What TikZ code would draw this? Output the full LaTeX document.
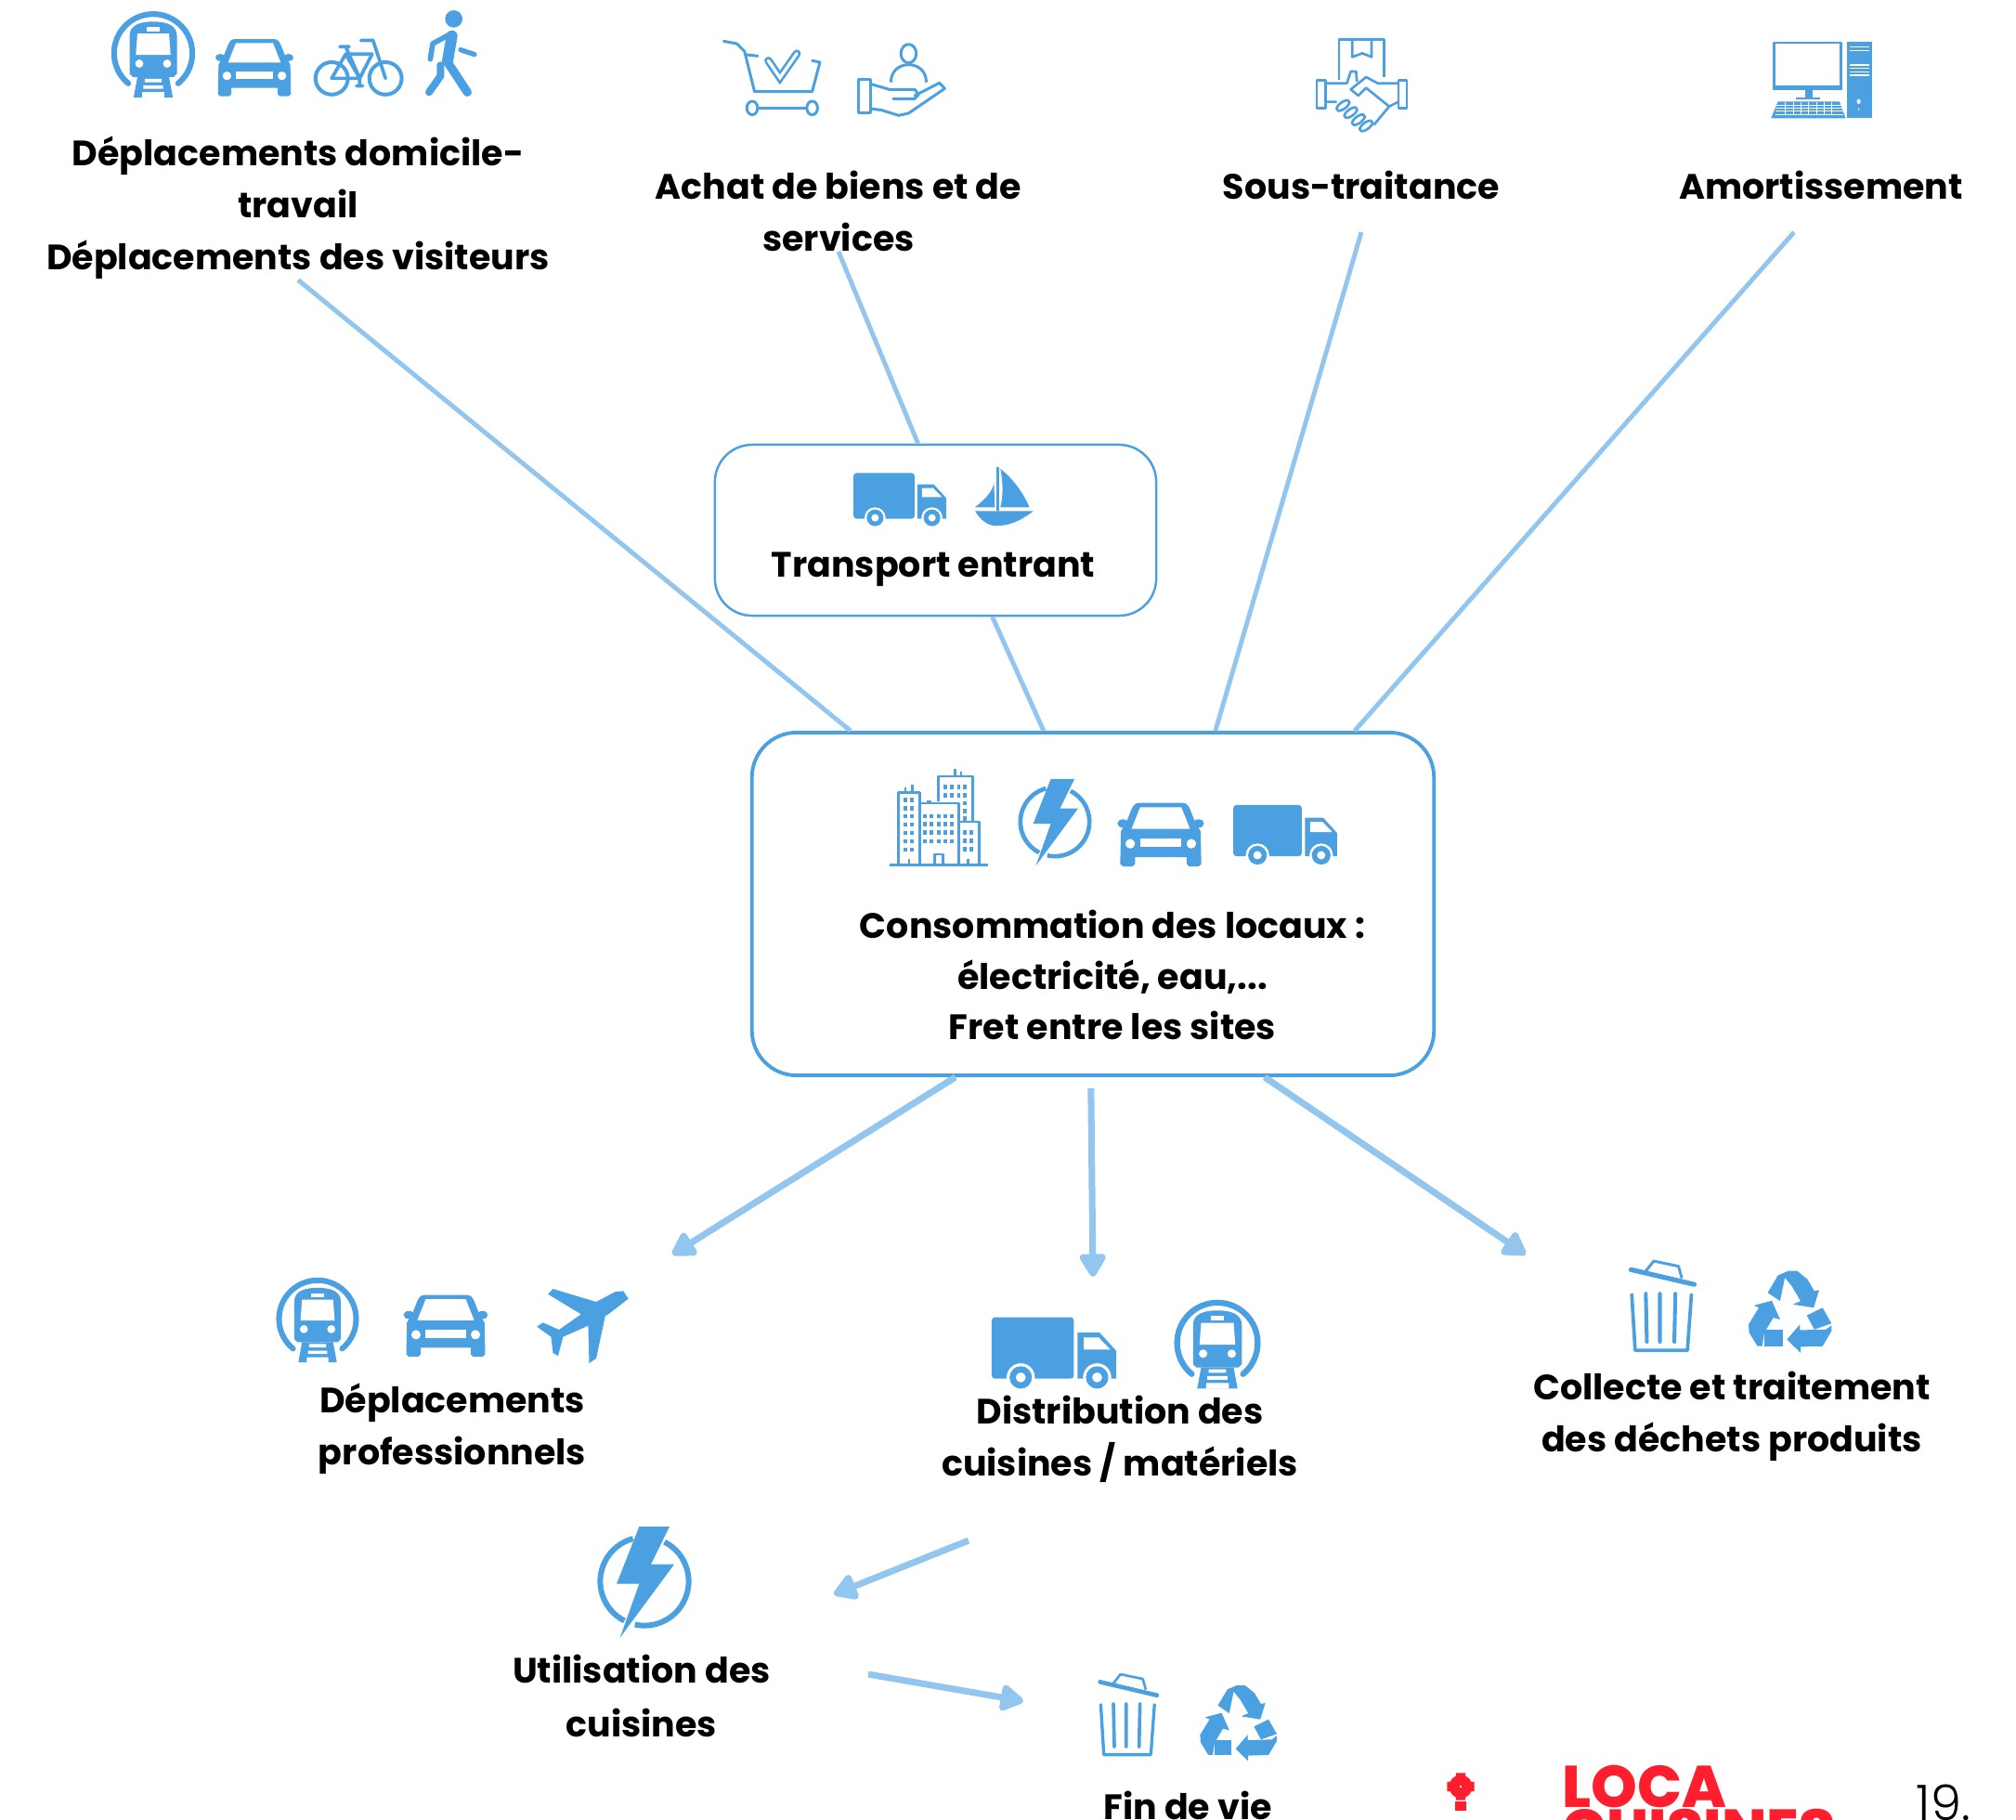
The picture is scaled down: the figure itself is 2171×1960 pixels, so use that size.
\documentclass[tikz,border=0pt]{standalone}
\usepackage{fontspec}
\setmainfont{Poppins}
\newfontfamily\logofont{Poppins}[UprightFont=* ExtraBold]
\newfontfamily\numfont{Poppins}[UprightFont=* Light]
\usetikzlibrary{arrows.meta,calc}
\definecolor{iconblue}{HTML}{4BA0E1}
\definecolor{linkblue}{HTML}{93C6EE}
\definecolor{logored}{HTML}{FF1E2D}
\tikzset{
  icon/.style={scale=#1,color=iconblue,line join=round,/utils/exec={\def\ics{#1}}},
  lw/.style={line width=#1*\ics*0.2845pt},
  label/.style={font=\fontsize{10.8}{15.9}\selectfont\bfseries,align=center,inner sep=0pt},
  box/.style={draw=iconblue,rounded corners=0.45cm,fill=white,inner sep=0pt},
  link/.style={linkblue,line width=1.4pt},
  flow/.style={linkblue,line width=2pt,-{Triangle[length=8pt,width=9pt,round]}},
  pics/train/.style={code={
    \draw[lw=18,line cap=round] ([shift={(0,-5)}]129.5:124) arc[start angle=129.5,end angle=410.5,radius=124];
    \fill (-75,60) -- (-75,-60) .. controls (-75,-95) and (-40,-105) .. (0,-105) .. controls (40,-105) and (75,-95) .. (75,-60) -- (75,60) -- (65,70) -- (-65,70) -- cycle;
    \fill[white] (-50,-67) -- (50,-67) -- (55,0) -- (-55,0) -- cycle;
    \fill[white] (-20,-88) rectangle (20,-75);
    \fill[white] (-44,28) circle (13) (44,28) circle (13);
    \fill (-50,70) -- (50,70) -- (62,135) -- (-62,135) -- cycle;
    \fill[white] (-27,76) rectangle (27,87) (-31,97) rectangle (31,108) (-35,118) rectangle (35,136);
  }},
  pics/car/.style={code={
    \fill (-110,-33) ellipse[x radius=16,y radius=12] (110,-33) ellipse[x radius=16,y radius=12];
    \fill (-62,-93) -- (62,-93) .. controls (75,-93) and (80,-85) .. (85,-75) -- (98,-42) -- (116,-10) -- (118,85) -- (110,92) -- (82,92) -- (75,85) -- (75,65) -- (-75,65) -- (-75,85) -- (-82,92) -- (-110,92) -- (-118,85) -- (-116,-10) -- (-98,-42) -- (-85,-75) .. controls (-80,-85) and (-75,-93) .. (-62,-93) -- cycle;
    \fill[white] (-60,-80) -- (60,-80) -- (85,-17) -- (-85,-17) -- cycle;
    \fill[white] (-60,12) rectangle (60,35);
    \fill[white] (-89,26) circle (14) (89,26) circle (14);
  }},
  pics/bike/.style={code={
    \draw[lw=12] (-86,34) circle (52) (87,34) circle (52);
    \draw[lw=11,line cap=round] (-86,34) -- (-41,-44) -- (4,34) -- cycle;
    \draw[lw=11,line cap=round] (-41,-44) -- (44,-44) -- (4,34) (-41,-68) -- (4,34) (-60,-68) -- (-30,-68);
    \draw[lw=11,line cap=round] (8,-88) -- (47,-88) -- (87,34) (4,34) -- (4,58) (-6,58) -- (14,58);
  }},
  pics/walker/.style={code={
    \fill (8,-110) circle (28);
    \draw[lw=36,line cap=round] (2,-55) -- (-12,25);
    \draw[lw=28,line cap=round] (-2,-50) -- (-12,30) -- (52,127);
    \draw[lw=24,line cap=round] (-35,40) -- (-35,75) -- (-72,127);
    \draw[lw=17,line cap=round] (-5,-60) -- (-60,-30) -- (-68,20);
    \draw[lw=16,line cap=round] (30,-10) -- (75,5);
  }},
  pics/truck/.style={code={
    \fill[rounded corners=1pt] (-150,-86) rectangle (48,62);
    \fill (57,-49) -- (110,-49) -- (150,-5) -- (150,62) -- (57,62) -- cycle;
    \fill[white] (72,-37) -- (108,-37) -- (136,-8) -- (72,-8) -- cycle;
    \fill[white] (-80,59) circle (34) (104,59) circle (34);
    \fill (-80,59) circle (27) (104,59) circle (27);
    \fill[white] (-80,59) circle (12) (104,59) circle (12);
  }},
  pics/boat/.style={code={
    \fill (-24,-93) rectangle (-15,47);
    \fill (-11,-88) .. controls (35,-50) and (65,-5) .. (83,37) -- (-11,37) .. controls (-2,0) and (-2,-40) .. cycle;
    \fill (-32,-43) .. controls (-35,-15) and (-60,10) .. (-93,37) -- (-29,37) -- cycle;
    \fill (-93,49) -- (96,49) .. controls (50,85) and (10,97) .. (-25,97) .. controls (-50,97) and (-75,80) .. cycle;
  }},
  pics/bolt/.style={code={
    \draw[lw=18] (117:143) arc[start angle=117,end angle=255,radius=143];
    \draw[lw=18] (-63:143) arc[start angle=-63,end angle=102.6,radius=143];
    \fill (-17,-177) -- (81,-177) -- (21,-55) -- (96,-55) -- (-79,182) -- (-17,8) -- (-90,8) -- cycle;
  }},
  pics/bin/.style={code={
    \draw[lw=14,line cap=round] (-88,-110) -- (96,-67);
    \draw[lw=8] (-48,-102) -- (-22,-135) -- (50,-120) -- (60,-85);
    \draw[lw=10,line join=round] (-86,-40) -- (-76,125) -- (76,125) -- (88,-40);
    \draw[lw=11,line cap=round] (-45,-40) -- (-42,100) (-4,-40) -- (-4,100) (41,-40) -- (38,100);
  }},
  pics/recycle/.style={code={
    \begin{scope}[xscale=2.05,shift={(-343,-228)}]
    \fill (310,170) -- (325,118) -- (340,105) -- (353,105) -- (368,130) -- (378,165) -- (385,162) -- (377,215) -- (347,205) -- (358,195) -- (345,150) -- (335,125) -- (328,195) -- cycle;
    \fill (290,208) -- (316,194) -- (328,250) -- (318,245) -- (305,290) -- (302,330) -- (295,330) -- (283,290) -- (282,265) -- (297,215) -- cycle;
    \fill (305,282) rectangle (332,330);
    \fill (367,238) -- (390,215) -- (403,262) -- (378,280) -- cycle;
    \fill (403,268) -- (403,285) -- (390,330) -- (358,332) -- (358,350) -- (338,310) -- (357,265) -- (357,282) -- (395,280) -- cycle;
    \end{scope}
  }},
  pics/cart/.style={code={
    \begin{scope}[xscale=2.487,shift={(-98.5,-191)}]
    \draw[lw=9,line cap=round] (35,72) -- (52,80) -- (62,105) -- (75,235) -- (150,235) -- (160,140) -- (150,135);
    \draw[lw=9] (62,115) -- (80,120);
    \draw[lw=9] (72,288) ellipse[x radius=7,y radius=22] (150,288) ellipse[x radius=7,y radius=22];
    \draw[lw=9] (79,288) -- (143,288);
    \draw[lw=26,line cap=round,line join=miter] (93,135) -- (108,190) -- (130,112);
    \draw[white,lw=10,line cap=round,line join=miter] (93,135) -- (108,190) -- (130,112);
    \end{scope}
  }},
  pics/hand/.style={code={
    \begin{scope}[xscale=2.487,shift={(-266,-197)}]
    \draw[lw=9] (275,112) ellipse[x radius=10,y radius=30];
    \draw[lw=9] (252,205) .. controls (252,170) and (262,148) .. (275,148) .. controls (288,148) and (298,170) .. (298,205);
    \draw[lw=9] (210,195) rectangle (225,303);
    \draw[lw=9,line cap=round] (225,210) -- (250,228) -- (283,228) -- (288,245) -- (283,258) -- (255,258);
    \draw[lw=9,line cap=round] (283,248) -- (315,207) -- (322,225) -- (275,305) -- (262,312) -- (240,295) -- (225,290);
    \end{scope}
  }},
  pics/handshake/.style={code={
    \begin{scope}[xscale=2.487,shift={(-865,-211)}]
    \draw[lw=8] (835,200) -- (835,68) -- (893,68) -- (893,190);
    \draw[lw=8] (852,68) -- (852,125) -- (865,113) -- (877,125) -- (877,68);
    \draw[lw=8] (806,200) rectangle (817,290) (912,200) rectangle (923,290);
    \draw[lw=8] (817,210) -- (845,210) -- (850,172) -- (857,172) -- (858,205);
    \draw[lw=8] (912,210) -- (885,210) -- (870,190) -- (850,230) -- (860,250) -- (870,225) -- (900,285) -- (880,345);
    \draw[lw=8] (817,270) -- (832,270) (900,285) -- (912,270);
    \foreach \fx/\fy in {840/282,850/305,860/328,870/348}
      \draw[lw=8,rotate around={-20:(\fx,\fy)}] (\fx,\fy) ellipse[x radius=6,y radius=18];
    \end{scope}
  }},
  pics/computer/.style={code={
    \begin{scope}[xscale=2.487,shift={(-1461,-198)}]
    \draw[lw=7] (1400,78) rectangle (1487,225);
    \fill (1398,215) rectangle (1489,232);
    \fill (1440,232) rectangle (1450,255);
    \fill (1428,255) rectangle (1460,262);
    \fill (1405,268) -- (1485,268) -- (1493,322) -- (1396,322) -- cycle;
    \foreach \ky in {280,290,300,310}
      \draw[white,lw=3] (1402,\ky) -- (1490,\ky);
    \foreach \kx in {1415,1425,1435,1445,1455,1465,1475}
      \draw[white,lw=3] (\kx,270) -- (\kx,312);
    \fill (1495,75) rectangle (1527,320);
    \foreach \ty in {92,103,150,160,172,183}
      \draw[white,lw=4] (1498,\ty) -- (1524,\ty);
    \fill[white] (1510,268) ellipse[x radius=2.5,y radius=8] (1510,293) ellipse[x radius=1,y radius=4];
    \end{scope}
  }},
  pics/city/.style={code={
    \begin{scope}[xscale=1.148,shift={(-289,-1200)}]
    \draw[lw=8] (150,1355) -- (428,1355);
    \draw[lw=8] (175,1355) -- (175,1120) -- (235,1120) -- (235,1355);
    \draw[lw=8] (240,1155) -- (345,1155) -- (345,1355);
    \draw[lw=8] (288,1150) -- (288,1068) -- (385,1068) -- (385,1215);
    \draw[lw=8] (348,1215) -- (402,1215) -- (402,1355);
    \draw[lw=8] (195,1120) -- (195,1105) (215,1120) -- (215,1095) (335,1068) -- (335,1043) (352,1068) -- (352,1052);
    \draw[lw=8] (278,1355) -- (278,1320) -- (300,1320) -- (300,1355) (205,1355) -- (205,1335) (372,1355) -- (372,1335);
    \foreach \wx in {195,213} \foreach \wy in {1145,1172,1197,1224,1251,1278,1305}
      \fill (\wx-5,\wy-7) rectangle (\wx+5,\wy+7);
    \foreach \wx in {250,268,288,308,325} \foreach \wy in {1197,1223,1250,1278}
      \fill (\wx-5,\wy-7) rectangle (\wx+5,\wy+7);
    \foreach \wx in {308,326,345,362} \foreach \wy in {1103,1130}
      \fill (\wx-5,\wy-7) rectangle (\wx+5,\wy+7);
    \foreach \wy in {1155,1180,1205}
      \fill (357,\wy-7) rectangle (367,\wy+7);
    \foreach \wx in {363,381} \foreach \wy in {1250,1277,1303}
      \fill (\wx-5,\wy-7) rectangle (\wx+5,\wy+7);
    \fill (256,1147) rectangle (268,1158);
    \end{scope}
  }},
  pics/plane/.style={code={
    \begin{scope}[xscale=3.25,shift={(-320,-263)}]
    \fill (360,150) -- (365,175) -- (345,225) -- (342,230) -- (333,368) -- (326,383) -- (325,262) -- (300,298) -- (295,360) -- (290,350) -- (288,298) -- (274,265) -- (280,252) -- (296,275) -- (318,225) -- (285,160) -- (290,143) -- (333,185) -- (352,152) -- cycle;
    \end{scope}
  }},
}

\begin{document}
\begin{tikzpicture}[x=0.01cm,y=-0.01cm]
    \useasboundingbox (0,0) rectangle (2171,1960);
    \clip (0,0) rectangle (2171,1960);

    % boxes
    \node [box,minimum width=4.75cm,minimum height=1.84cm,line width=0.7pt,rounded corners=0.4cm] (transport) at (1007.5,571) {};
    \node [box,minimum width=7.34cm,minimum height=3.69cm,line width=1.1pt,rounded corners=0.48cm] (conso) at (1177,973.5) {};

    % labels
    \node [label] (domicile) at (321,224) {Déplacements domicile-\\travail\\Déplacements des visiteurs};
    \node [label] (achat) at (903,227) {Achat de biens et de\\services};
    \node [label] (soustraitance) at (1466,199) {Sous-traitance};
    \node [label] (amortissement) at (1961,199) {Amortissement};
    \node [label] (transportlabel) at (1005,613) {Transport entrant};
    \node [label,font=\fontsize{10.8}{15.4}\selectfont\bfseries] (consolabel) at (1198,1050) {Consommation des locaux :\\électricité, eau,...\\Fret entre les sites};
    \node [label] (professionnels) at (487,1539) {Déplacements\\professionnels};
    \node [label] (distribution) at (1206,1550) {Distribution des\\cuisines / matériels};
    \node [label] (collecte) at (1865,1525) {Collecte et traitement\\des déchets produits};
    \node [label,font=\fontsize{10.8}{16.5}\selectfont\bfseries] (utilisation) at (691,1826) {Utilisation des\\cuisines};
    \node [label] (findevie) at (1279,1944) {Fin de vie};

    % lines into the box
    \draw [link] (domicile.south) -- ($(conso.north west)+(108,0)$);
    \draw [link] (achat.south) -- ($(transport.north west)+(220,0)$);
    \draw [link] ($(transport.south west)+(300,0)$) -- ($(conso.north west)+(316,0)$);
    \draw [link] (soustraitance.south)+(0,35) -- ($(conso.north west)+(501,0)$);
    \draw [link] (amortissement.south)+(-29,35) -- ($(conso.north west)+(651,0)$);

    % arrows out of the box
    \coordinate (tippro) at (724,1351);
    \coordinate (tipdist) at (1177,1375);
    \coordinate (tipcollecte) at (1643,1351);
    \coordinate (usagefrom) at (1043,1659);
    \coordinate (usageto) at (898,1717);
    \coordinate (finfrom) at (935,1803);
    \coordinate (finto) at (1102,1832);
    \draw [flow] ($(conso.south west)+(221,0)$) -- (tippro);
    \draw [flow] ($(conso.south west)+(367,12)$) -- (tipdist);
    \draw [flow] ($(conso.south west)+(554,0)$) -- (tipcollecte);
    \draw [flow] (usagefrom) -- (usageto);
    \draw [flow] (finfrom) -- (finto);

    % icons
    \pic [icon=.34] at (165,59) {train};
    \pic [icon=.333] at (274,73) {car};
    \pic [icon=.335] at (386,73) {bike};
    \pic [icon=.333] at (486,57) {walker};
    \pic [icon=.333] at (832,84) {cart};
    \pic [icon=.333] at (971,86) {hand};
    \pic [icon=.333] at (1467,90) {handshake};
    \pic [icon=.333] at (1961,86) {computer};
    \pic [icon=.333] at (969,538) {truck};
    \pic [icon=.333] at (1081,534) {boat};
    \pic [icon=.333] at (1011,880) {city};
    \pic [icon=.26] at (1136,885) {bolt};
    \pic [icon=.37] at (1250,899) {car};
    \pic [icon=.373] at (1384,899) {truck};
    \pic [icon=.335] at (342,1422) {train};
    \pic [icon=.36] at (480,1428) {car};
    \pic [icon=.333] at (628,1428) {plane};
    \pic [icon=.447] at (1135,1457) {truck};
    \pic [icon=.35] at (1311,1448) {train};
    \pic [icon=.37] at (1789,1408) {bin};
    \pic [icon=.36] at (1928,1413) {recycle};
    \pic [icon=.333] at (694,1703) {bolt};
    \pic [icon=.333] at (1214,1848) {bin};
    \pic [icon=.333] at (1334,1856) {recycle};

    % logo and page number
    \draw [logored,line width=3.2pt,rounded corners=4pt] (1564,1915) rectangle (1582,1933);
    \fill [logored] (1567,1940) rectangle (1579,1950);
    \fill [logored] (1572,1990) circle (22) (1618,1990) circle (22);
    \node [anchor=base west,inner sep=0pt,text=logored,font=\logofont\fontsize{18}{18}\selectfont] (loca) at (1682,1946) {LOCA};
    \node [anchor=base west,inner sep=0pt,text=logored,font=\logofont\fontsize{18}{18}\selectfont] (cuisines) at (1682,1993) {CUISINES};
    \node [anchor=base west,inner sep=0pt,font=\numfont\fontsize{15}{15}\selectfont] (page) at (2063,1960) {19.};
\end{tikzpicture}
\end{document}
